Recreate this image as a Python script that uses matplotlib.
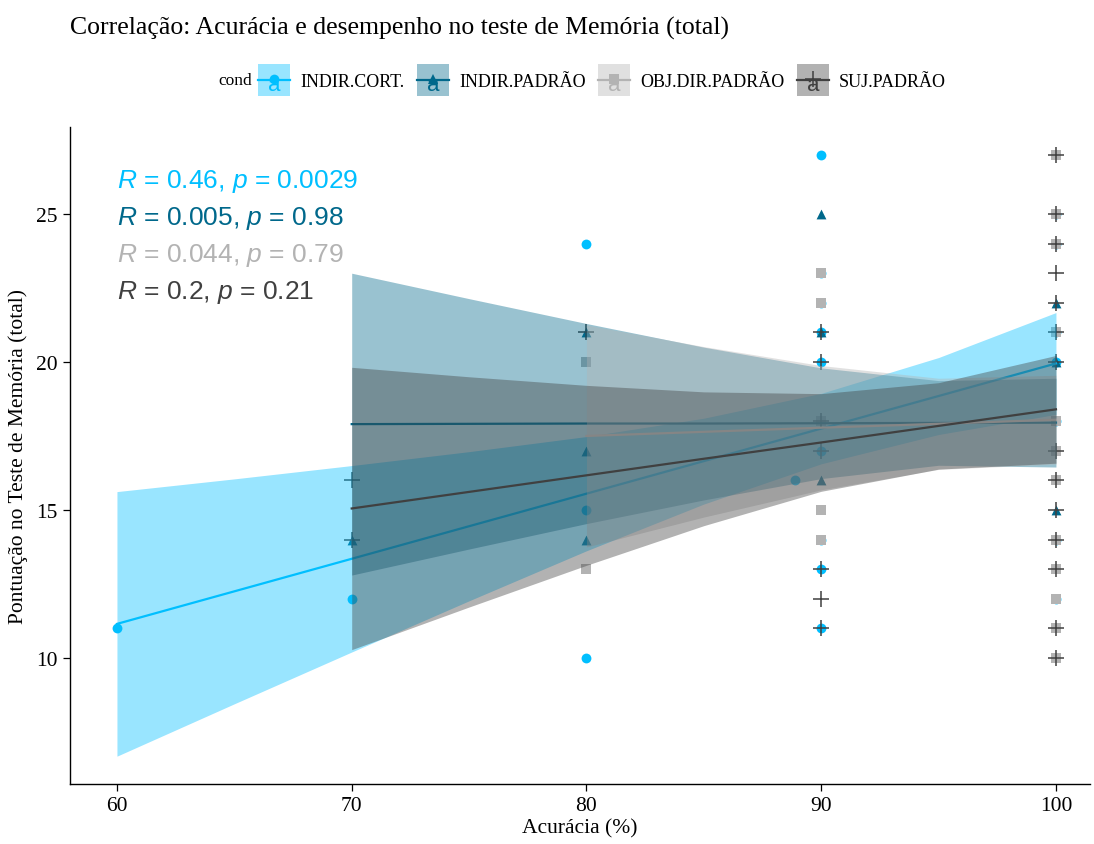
import matplotlib
matplotlib.use("Agg")
import matplotlib.pyplot as plt
from matplotlib.legend_handler import HandlerBase
from matplotlib.patches import Rectangle
from matplotlib.lines import Line2D
from matplotlib.text import Text

plt.rcParams['font.family'] = ['Liberation Serif', 'DejaVu Serif']
plt.rcParams['mathtext.fontset'] = 'custom'
plt.rcParams['mathtext.rm'] = 'Liberation Sans'
plt.rcParams['mathtext.it'] = 'Liberation Sans:italic'

# groups and styles
conds = ['INDIR.CORT.', 'INDIR.PADRÃO', 'OBJ.DIR.PADRÃO', 'SUJ.PADRÃO']
colors = ['#00BFFF', '#00688B', '#B3B3B3', '#404040']
markers = ['o', '^', 's', '+']
stats = ['$\\it{R}$ = 0.46, $\\it{p}$ = 0.0029',
         '$\\it{R}$ = 0.005, $\\it{p}$ = 0.98',
         '$\\it{R}$ = 0.044, $\\it{p}$ = 0.79',
         '$\\it{R}$ = 0.2, $\\it{p}$ = 0.21']

# points (acuracia, pontuacao)
cort_x = [60, 70, 80, 80, 80, 88.9, 90, 90, 90, 90, 90, 90, 90, 90, 90,
          100, 100, 100, 100, 100, 100, 100]
cort_y = [11, 12, 24, 15, 10, 16, 27, 23, 22, 20, 17, 14, 13, 11, 21,
          25, 24, 21, 20, 18, 14, 12]
padr_x = [70, 80, 80, 80, 90, 90, 90, 100, 100, 100]
padr_y = [14, 21, 17, 14, 25, 21, 16, 22, 20, 15]
obj_x = [80, 80, 90, 90, 90, 90, 90, 100, 100, 100, 100, 100, 100, 100, 100,
         100, 100, 100, 100, 100]
obj_y = [20, 13, 23, 22, 18, 15, 14, 27, 25, 24, 21, 18, 17, 16, 14, 13, 12,
         11, 10, 21]
suj_x = [70, 70, 80, 90, 90, 90, 90, 90, 90, 90, 100, 100, 100, 100, 100,
         100, 100, 100, 100, 100, 100, 100, 100, 100]
suj_y = [16, 14, 21, 21, 20, 18, 17, 13, 12, 11, 27, 25, 24, 23, 22, 21, 20,
         17, 16, 15, 14, 13, 11, 10]

# regression lines and confidence bands
cort_bx = [60, 65, 70, 75, 80, 85, 90, 95, 100]
cort_fit = [11.15, 12.25, 13.35, 14.45, 15.55, 16.65, 17.75, 18.85, 19.95]
cort_lo = [6.68, 8.45, 10.20, 11.93, 13.62, 15.20, 16.56, 17.55, 18.23]
cort_hi = [15.62, 16.05, 16.50, 16.97, 17.48, 18.10, 18.94, 20.15, 21.67]

padr_bx = [70, 75, 80, 85, 90, 95, 100]
padr_fit = [17.90, 17.91, 17.92, 17.92, 17.93, 17.94, 17.95]
padr_lo = [12.80, 13.68, 14.54, 15.34, 16.06, 16.51, 16.45]
padr_hi = [23.00, 22.14, 21.30, 20.50, 19.80, 19.37, 19.45]

obj_bx = [80, 85, 90, 95, 100]
obj_fit = [17.50, 17.64, 17.78, 17.91, 18.05]
obj_lo = [13.75, 14.76, 15.68, 16.37, 16.55]
obj_hi = [21.25, 20.52, 19.88, 19.45, 19.55]

suj_bx = [70, 75, 80, 85, 90, 95, 100]
suj_fit = [15.05, 15.61, 16.17, 16.73, 17.28, 17.84, 18.40]
suj_lo = [10.28, 11.72, 13.13, 14.47, 15.63, 16.38, 16.58]
suj_hi = [19.82, 19.50, 19.21, 18.99, 18.93, 19.30, 20.22]

points = [(cort_x, cort_y), (padr_x, padr_y), (obj_x, obj_y), (suj_x, suj_y)]
bands = [(cort_bx, cort_fit, cort_lo, cort_hi),
         (padr_bx, padr_fit, padr_lo, padr_hi),
         (obj_bx, obj_fit, obj_lo, obj_hi),
         (suj_bx, suj_fit, suj_lo, suj_hi)]

fig = plt.figure(figsize=(10.94, 8.45), dpi=100)
ax = fig.add_axes([70 / 1094, 60 / 845, 1020 / 1094, 657 / 845])

for (px, py), c, m in zip(points, colors, markers):
    if m == '+':
        ax.scatter(px, py, marker=m, s=120, color=c, linewidths=1.1, zorder=2)
    else:
        ax.scatter(px, py, marker=m, s=50, color=c, linewidths=0, zorder=2)

for i, ((bx, fit, lo, hi), c) in enumerate(zip(bands, colors)):
    ax.fill_between(bx, lo, hi, color=c, alpha=0.4, linewidth=0, zorder=3 + 2 * i)
    ax.plot(bx, fit, color=c, lw=1.6, zorder=4 + 2 * i)

for i, (s, c) in enumerate(zip(stats, colors)):
    ax.text(0.046, 0.919 - i * 0.0563, s, color=c, fontsize=19,
            family='Liberation Sans', transform=ax.transAxes,
            va='center', ha='left', zorder=20)

ax.set_xlim(58, 101.45)
ax.set_ylim(5.74, 27.94)
ax.set_xticks([60, 70, 80, 90, 100])
ax.set_yticks([10, 15, 20, 25])
ax.tick_params(labelsize=15.5, length=5, width=0.9, colors='black', pad=4)
for sp in ['top', 'right']:
    ax.spines[sp].set_visible(False)
for sp in ['left', 'bottom']:
    ax.spines[sp].set_linewidth(1.0)
ax.set_xlabel('Acurácia (%)', fontsize=15.5, labelpad=2)
ax.set_ylabel('Pontuação no Teste de Memória (total)', fontsize=15.5, labelpad=6)

fig.text(70 / 1094, 1 - 28 / 845, 'Correlação: Acurácia e desempenho no teste de Memória (total)',
         fontsize=18.5, ha='left', va='center')


class KeyHandler(HandlerBase):
    def create_artists(self, legend, orig_handle, xdescent, ydescent,
                       width, height, fontsize, trans):
        c = orig_handle.get_color()
        m = orig_handle.get_marker()
        rect = Rectangle((-xdescent, -ydescent), width, height, facecolor=c,
                         alpha=0.4, edgecolor='none', transform=trans)
        cy = -ydescent + height / 2
        ln = Line2D([-xdescent, -xdescent + width], [cy, cy], color=c, lw=1.6,
                    transform=trans)
        cx = -xdescent + width / 2
        txt = Text(cx, cy - 3, 'a', color=c, fontsize=16, ha='center', va='center',
                   family='Liberation Sans', transform=trans)
        if m == '+':
            mk = Line2D([cx], [cy + 1], marker=m, markersize=11, mew=1.1, color=c,
                        linestyle='none', transform=trans)
        else:
            mk = Line2D([cx], [cy + 1], marker=m, markersize=7, mew=0, color=c,
                        linestyle='none', transform=trans)
        return [rect, txt, ln, mk]


handles = [Line2D([], [], color=c, marker=m) for c, m in zip(colors, markers)]
fig.text(218 / 1094, 1 - 81 / 845, 'cond', fontsize=12.5, ha='left', va='center')
fig.legend(handles, conds, handler_map={Line2D: KeyHandler()},
           loc='center left', bbox_to_anchor=(258 / 1094, 1 - 81 / 845),
           ncol=4, frameon=False, fontsize=13, borderpad=0, borderaxespad=0,
           handlelength=1.78, handleheight=2.3, handletextpad=0.55,
           columnspacing=0.7)

fig.savefig('out.png', dpi=100)
